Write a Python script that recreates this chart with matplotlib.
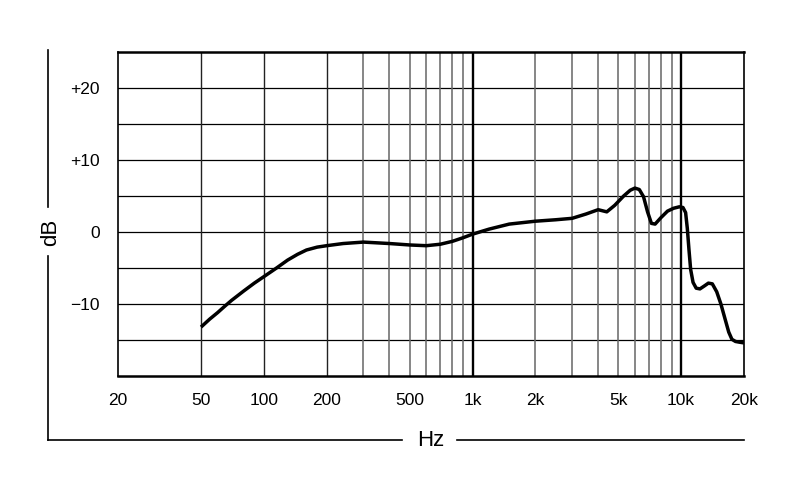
import numpy as np
import matplotlib.pyplot as plt
from matplotlib.lines import Line2D

plt.rcParams['font.family'] = ['Liberation Sans', 'DejaVu Sans']

# response curve
freq = [50, 55, 60, 65, 70, 80, 90, 100, 115, 130, 145, 160, 180, 200, 240,
        300, 400, 500, 600, 700, 800, 900, 1000, 1200, 1500, 2000, 2500, 3000,
        3500, 4000, 4400, 4800, 5300, 5700, 6000, 6300, 6600, 6900, 7200, 7500,
        8000, 8600, 9200, 9800, 10200, 10500, 10700, 10900, 11100, 11400, 11800,
        12300, 12900, 13500, 14100, 14800, 15500, 16200, 16900, 17500, 18200,
        19000, 20000]
level = [-13.2, -12.1, -11.2, -10.3, -9.5, -8.2, -7.1, -6.2, -5.0, -3.9, -3.1,
         -2.5, -2.1, -1.9, -1.6, -1.4, -1.6, -1.8, -1.9, -1.7, -1.3, -0.8, -0.3,
         0.4, 1.1, 1.5, 1.7, 1.9, 2.5, 3.1, 2.8, 3.7, 5.0, 5.8, 6.1, 5.9, 4.9,
         2.8, 1.2, 1.1, 2.0, 2.9, 3.3, 3.5, 3.4, 2.7, 0.5, -2.5, -5.2, -7.0,
         -7.8, -7.9, -7.5, -7.1, -7.2, -8.3, -10.0, -12.0, -13.9, -14.9, -15.2,
         -15.3, -15.4]

ytick_vals = [-10, 0, 10, 20]
ytick_labels = ['\u221210', '0', '+10', '+20']
xtick_vals = [20, 50, 100, 200, 500, 1000, 2000, 5000, 10000, 20000]
xtick_labels = ['20', '50', '100', '200', '500', '1k', '2k', '5k', '10k', '20k']

fig = plt.figure(figsize=(8, 4.86), dpi=100)
ax = fig.add_axes([0.1475, 0.2263, 0.7825, 0.6667])
ax.set_xscale('log')
ax.set_xlim(20, 20000)
ax.set_ylim(-20, 25)

# grid
for y in np.arange(-15, 25, 5):
    ax.axhline(y, color='black', lw=0.9, zorder=1)
minor = [300, 400, 500, 600, 700, 800, 900, 2000, 3000, 4000, 5000, 6000,
         7000, 8000, 9000]
for x in minor:
    ax.axvline(x, color='#666666', lw=1.1, zorder=1)
for x in [50, 100, 200]:
    ax.axvline(x, color='#222222', lw=1.0, zorder=1)
for x in [1000, 10000]:
    ax.axvline(x, color='black', lw=1.7, zorder=1)

ax.plot(freq, level, color='black', lw=2.5, solid_capstyle='butt',
        solid_joinstyle='round', zorder=3)

ax.set_xticks(xtick_vals)
ax.set_xticklabels(xtick_labels)
ax.set_xticks([], minor=True)
ax.set_yticks(ytick_vals)
ax.set_yticklabels(ytick_labels)
ax.tick_params(length=0, labelsize=12.5)
ax.tick_params(axis='x', pad=12)
ax.tick_params(axis='y', pad=13)
for side in ['left', 'right']:
    ax.spines[side].set_linewidth(1.2)
for side in ['top', 'bottom']:
    ax.spines[side].set_linewidth(1.8)

# axis labels with lines
W, H = 800, 486
def fx(px): return px / W
def fy(py): return 1 - py / H

fig.add_artist(Line2D([fx(48), fx(48)], [fy(50), fy(207)], color='black', lw=1.2))
fig.add_artist(Line2D([fx(48), fx(48)], [fy(256), fy(440)], color='black', lw=1.2))
fig.add_artist(Line2D([fx(48), fx(402)], [fy(440), fy(440)], color='black', lw=1.2))
fig.add_artist(Line2D([fx(457), fx(744)], [fy(440), fy(440)], color='black', lw=1.2))
fig.text(fx(51), fy(232), 'dB', rotation=90, ha='center', va='center', fontsize=16)
fig.text(fx(431), fy(440), 'Hz', ha='center', va='center', fontsize=16)

fig.savefig('out.png', dpi=100, facecolor='white')
